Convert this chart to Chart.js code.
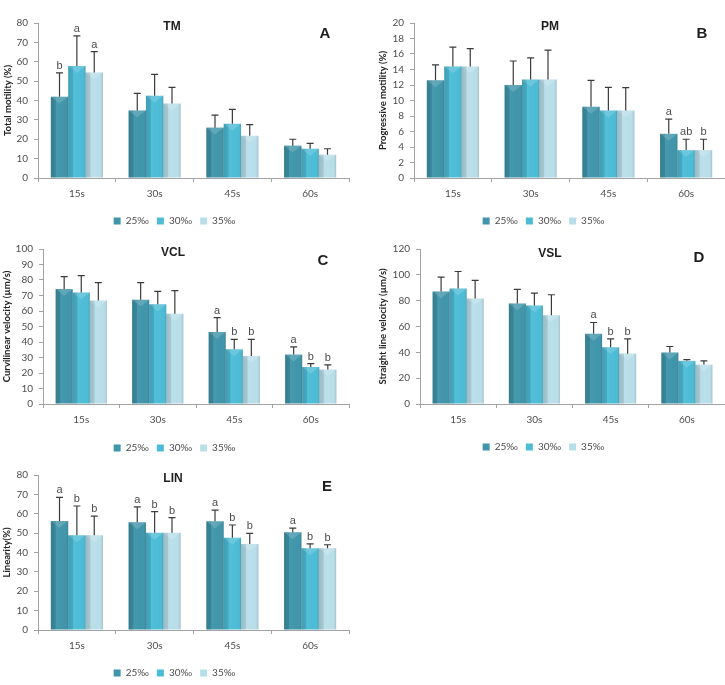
<!DOCTYPE html>
<html>
<head>
<meta charset="utf-8">
<script src="https://cdn.jsdelivr.net/npm/chart.js@4.4.0/dist/chart.umd.min.js"></script>
<style>
  body { margin: 0; background: #fff; }
  #page { position: relative; width: 725px; height: 685px; overflow: hidden; }
  .panel { position: absolute; }
</style>
</head>
<body>
<div id="page">
  <div class="panel" style="left:0;top:0;width:362px;height:230px"><canvas id="chartTM"></canvas></div>
  <div class="panel" style="left:362px;top:0;width:363px;height:230px"><canvas id="chartPM"></canvas></div>
  <div class="panel" style="left:0;top:230px;width:362px;height:230px"><canvas id="chartVCL"></canvas></div>
  <div class="panel" style="left:362px;top:230px;width:363px;height:230px"><canvas id="chartVSL"></canvas></div>
  <div class="panel" style="left:0;top:460px;width:362px;height:225px"><canvas id="chartLIN"></canvas></div>
</div>
<script>
// categories and series
const categories = ['15s', '30s', '45s', '60s'];
const salinities = ['25‰', '30‰', '35‰'];
const barColors = ['#3f95aa', '#4cbcd6', '#b8dee9'];

// A - total motility (%)
const tmMean = [[42.0, 34.9, 26.0, 16.7], [57.8, 42.5, 28.0, 15.1], [54.5, 38.4, 21.8, 12.0]];
const tmSD = [[12.3, 8.8, 6.5, 3.3], [15.6, 11.0, 7.4, 2.8], [10.7, 8.4, 5.7, 3.1]];
const tmLetters = [['b', '', '', ''], ['a', '', '', ''], ['a', '', '', '']];

// B - progressive motility (%)
const pmMean = [[12.6, 12.0, 9.2, 5.7], [14.4, 12.7, 8.7, 3.6], [14.4, 12.7, 8.7, 3.6]];
const pmSD = [[2.0, 3.1, 3.4, 1.9], [2.5, 2.8, 3.0, 1.4], [2.3, 3.8, 2.95, 1.4]];
const pmLetters = [['', '', '', 'a'], ['', '', '', 'ab'], ['', '', '', 'b']];

// C - curvilinear velocity (um/s)
const vclMean = [[74.2, 67.3, 46.5, 31.9], [72.0, 64.3, 35.3, 23.9], [66.7, 58.3, 31.0, 22.2]];
const vclSD = [[8.0, 11.0, 9.2, 4.9], [10.8, 8.4, 6.4, 2.1], [11.6, 14.8, 10.7, 3.0]];
const vclLetters = [['', '', 'a', 'a'], ['', '', 'b', 'b'], ['', '', 'b', 'b']];

// D - straight line velocity (um/s)
const vslMean = [[87.1, 77.8, 54.3, 39.8], [89.5, 76.3, 44.0, 33.4], [81.7, 68.8, 39.0, 30.5]];
const vslSD = [[11.2, 10.9, 8.8, 4.7], [13.1, 9.6, 6.4, 1.0], [14.0, 15.8, 11.4, 2.9]];
const vslLetters = [['', '', 'a', ''], ['', '', 'b', ''], ['', '', 'b', '']];

// E - linearity (%)
const linMean = [[56.3, 55.6, 56.1, 50.4], [48.9, 50.2, 47.6, 42.2], [48.9, 50.2, 44.4, 42.2]];
const linSD = [[12.2, 8.0, 5.8, 2.2], [15.1, 10.9, 6.6, 2.3], [9.9, 7.8, 5.5, 1.8]];
const linLetters = [['a', 'a', 'a', 'a'], ['b', 'b', 'b', 'b'], ['b', 'b', 'b', 'b']];

const axisColor = '#a3a3a3';
const textColor = '#4d4d4d';

// shading on the bars, then error bars and letters
const barExtras = {
  id: 'barExtras',
  afterDatasetsDraw(chart) {
    const ctx = chart.ctx;
    const yScale = chart.scales.y;
    chart.data.datasets.forEach((ds, i) => {
      chart.getDatasetMeta(i).data.forEach((bar, j) => {
        const w = bar.width;
        const left = bar.x - w / 2;
        const h = bar.base - bar.y;
        ctx.save();
        const g = ctx.createLinearGradient(left, 0, left + w, 0);
        g.addColorStop(0, 'rgba(0,0,0,0.16)');
        g.addColorStop(0.26, 'rgba(0,0,0,0.10)');
        g.addColorStop(0.32, 'rgba(255,255,255,0.04)');
        g.addColorStop(0.8, 'rgba(255,255,255,0.0)');
        g.addColorStop(1, 'rgba(0,0,0,0.14)');
        ctx.fillStyle = g;
        ctx.fillRect(left, bar.y, w, h);
        ctx.beginPath();
        ctx.moveTo(left, bar.y);
        ctx.lineTo(left + w, bar.y);
        ctx.lineTo(bar.x, bar.y + Math.min(w * 0.4, h));
        ctx.closePath();
        ctx.fillStyle = 'rgba(255,255,255,0.16)';
        ctx.fill();

        const top = yScale.getPixelForValue(ds.data[j] + ds.sd[j]);
        ctx.strokeStyle = '#3b3b3b';
        ctx.lineWidth = 1.2;
        ctx.beginPath();
        ctx.moveTo(bar.x, bar.y);
        ctx.lineTo(bar.x, top);
        ctx.moveTo(bar.x - 3.5, top);
        ctx.lineTo(bar.x + 3.5, top);
        ctx.stroke();

        const letter = ds.letters[j];
        if (letter) {
          ctx.fillStyle = '#4d4d4d';
          ctx.font = '11px "Liberation Sans", Arial, sans-serif';
          ctx.textAlign = 'center';
          ctx.textBaseline = 'alphabetic';
          ctx.fillText(letter, bar.x, top - 4);
        }
        ctx.restore();
      });
    });
  }
};

// panel title and letter inside the plot
const panelLabels = {
  id: 'panelLabels',
  afterDraw(chart, args, opts) {
    const ctx = chart.ctx;
    ctx.save();
    ctx.fillStyle = '#1e1e1e';
    ctx.textAlign = 'center';
    ctx.textBaseline = 'middle';
    ctx.font = 'bold 12px "Liberation Sans", Arial, sans-serif';
    ctx.fillText(opts.title, opts.titleX, opts.titleY);
    ctx.font = 'bold 15px "Liberation Sans", Arial, sans-serif';
    ctx.fillText(opts.tag, opts.tagX, opts.tagY);
    ctx.restore();
  }
};

function buildPanel(id, means, sds, letters, p) {
  const datasets = salinities.map((s, i) => ({
    label: s,
    data: means[i],
    sd: sds[i],
    letters: letters[i],
    backgroundColor: barColors[i],
    borderWidth: 0,
    categoryPercentage: 0.67,
    barPercentage: 1.0
  }));
  const canvas = document.getElementById(id);
  const W = canvas.parentNode.clientWidth;
  new Chart(canvas, {
    type: 'bar',
    data: { labels: categories, datasets },
    plugins: [barExtras, panelLabels],
    options: {
      responsive: true,
      maintainAspectRatio: false,
      animation: false,
      layout: { padding: { top: p.top, right: W - p.right, left: 0, bottom: 0 } },
      plugins: {
        legend: {
          position: 'bottom',
          maxHeight: p.legendH,
          labels: {
            boxWidth: 7, boxHeight: 7, padding: 8,
            color: textColor,
            font: { family: 'Lato', size: 10 }
          }
        },
        tooltip: { enabled: false },
        panelLabels: p.labels
      },
      scales: {
        x: {
          afterFit: (s) => { s.height = p.xH; },
          border: { color: axisColor, width: 1 },
          grid: { display: true, drawOnChartArea: false, drawTicks: true, tickLength: 4, color: axisColor, offset: true },
          ticks: { color: textColor, padding: 6, font: { family: 'Lato', size: 10 } }
        },
        y: {
          min: 0, max: p.max,
          afterFit: (s) => { s.width = p.left; },
          border: { color: axisColor, width: 1 },
          grid: { display: true, drawOnChartArea: false, drawTicks: true, tickLength: 4, color: axisColor },
          ticks: { stepSize: p.step, color: textColor, padding: 6, font: { family: 'Lato', size: 10 } },
          title: {
            display: true, text: p.yTitle, color: '#222',
            padding: { top: p.titlePad, bottom: 0 },
            font: { family: 'Lato', size: 9.5, weight: 'bold' }
          }
        }
      }
    }
  });
}

buildPanel('chartTM', tmMean, tmSD, tmLetters, {
  top: 23, left: 38, right: 349, xH: 30, legendH: 22, max: 80, step: 10,
  yTitle: 'Total motility (%)', titlePad: 2,
  labels: { title: 'TM', titleX: 172, titleY: 27, tag: 'A', tagX: 325, tagY: 34 }
});
buildPanel('chartPM', pmMean, pmSD, pmLetters, {
  top: 23, left: 52, right: 363, xH: 30, legendH: 22, max: 20, step: 2,
  yTitle: 'Progressive motility (%)', titlePad: 15,
  labels: { title: 'PM', titleX: 188, titleY: 27, tag: 'B', tagX: 340, tagY: 34 }
});
buildPanel('chartVCL', vclMean, vclSD, vclLetters, {
  top: 19, left: 43, right: 349, xH: 31, legendH: 25, max: 100, step: 10,
  yTitle: 'Curvilinear velocity (µm/s)', titlePad: 1,
  labels: { title: 'VCL', titleX: 173, titleY: 23, tag: 'C', tagX: 323, tagY: 31 }
});
buildPanel('chartVSL', vslMean, vslSD, vslLetters, {
  top: 19, left: 58, right: 363, xH: 30, legendH: 26, max: 120, step: 20,
  yTitle: 'Straight line velocity (µm/s)', titlePad: 15,
  labels: { title: 'VSL', titleX: 188, titleY: 24, tag: 'D', tagX: 337, tagY: 28 }
});
buildPanel('chartLIN', linMean, linSD, linLetters, {
  top: 15, left: 38, right: 349, xH: 30, legendH: 25, max: 80, step: 10,
  yTitle: 'Linearity(%)', titlePad: 1,
  labels: { title: 'LIN', titleX: 173, titleY: 19, tag: 'E', tagX: 327, tagY: 27 }
});
</script>
</body>
</html>
